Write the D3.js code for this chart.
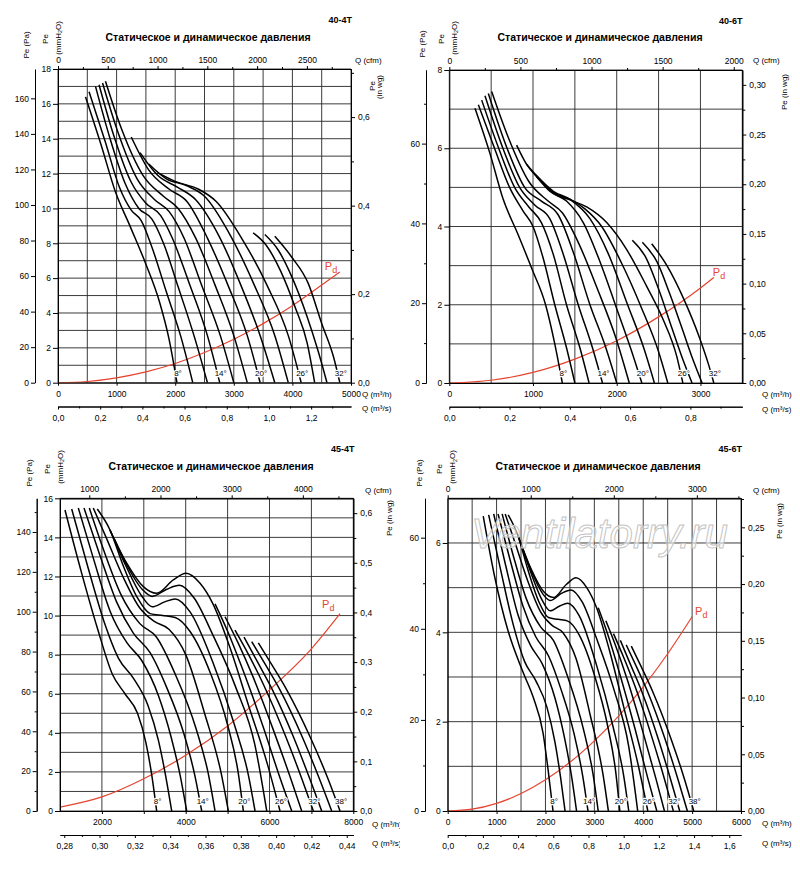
<!DOCTYPE html>
<html>
<head>
<meta charset="utf-8">
<script src="https://cdn.jsdelivr.net/npm/d3@7"></script>
<style>
  body { margin: 0; background: #fff; }
</style>
</head>
<body>
<svg id="chart" width="800" height="876"></svg>
<script>
const FONT = '"Liberation Sans", Arial, Helvetica, sans-serif';

// ---- data ----
const angles40 = [8, 10, 12, 14, 16, 18, 20, 22, 24, 26, 28, 30, 32];
const angles45 = [8, 10, 12, 14, 16, 18, 20, 22, 24, 26, 28, 30, 32, 34, 36, 38];
const labeledAngles = [8, 14, 20, 26, 32, 38];

// [Q m3/h, Pe mmH2O]
const curves404T = [
  [[470,16.4],[740,13.6],[975,11.0],[1240,8.9],[1500,6.8],[1735,4.6],[1895,2.5],[2030,0]],
  [[530,16.7],[800,13.9],[1050,11.2],[1250,9.9],[1420,9.3],[1600,7.8],[1850,5.2],[2100,2.6],[2300,0]],
  [[640,17.0],[880,14.1],[1150,11.4],[1380,10.0],[1600,9.4],[1800,8.0],[2050,5.5],[2330,2.6],[2550,0]],
  [[700,17.1],[950,14.2],[1250,11.5],[1500,10.3],[1750,9.6],[1950,8.3],[2250,5.6],[2550,2.7],[2760,0]],
  [[760,17.2],[1020,14.4],[1350,11.7],[1650,10.5],[1900,9.8],[2150,8.3],[2450,5.6],[2770,2.7],[3000,0]],
  [[810,17.3],[1080,14.6],[1450,11.9],[1800,10.7],[2050,10.0],[2350,8.3],[2680,5.6],[3000,2.7],[3230,0]],
  [[1250,14.1],[1550,12.2],[1900,11.1],[2200,10.4],[2550,8.3],[2900,5.6],[3230,2.7],[3450,0]],
  [[1400,13.2],[1700,11.9],[2050,11.2],[2350,10.5],[2750,8.4],[3120,5.6],[3450,2.7],[3700,0]],
  [[1550,12.55],[1850,11.7],[2200,11.3],[2500,10.7],[2950,8.4],[3350,5.6],[3700,2.7],[3930,0]],
  [[1700,12.05],[2000,11.55],[2400,11.1],[2700,10.4],[3150,8.2],[3580,5.5],[3930,2.7],[4150,0]],
  [[3330,8.6],[3550,7.9],[3800,6.4],[4050,4.3],[4250,2.3],[4380,0]],
  [[3530,8.5],[3760,7.6],[4000,6.0],[4250,3.8],[4440,1.8],[4590,0]],
  [[3700,8.4],[3990,7.2],[4270,5.7],[4500,3.4],[4700,1.5],[4810,0]]
];
const curves406T = [
  [[307,7.02],[488,5.85],[643,4.7],[820,3.8],[990,2.9],[1150,2.0],[1255,1.05],[1350,0]],
  [[347,7.11],[540,6.0],[720,5.0],[880,4.4],[1000,4.0],[1120,3.2],[1260,2.0],[1400,0.9],[1500,0]],
  [[387,7.23],[590,6.0],[780,5.0],[950,4.5],[1100,4.1],[1240,3.3],[1400,2.0],[1560,0.9],[1670,0]],
  [[426,7.34],[640,6.0],[840,5.0],[1020,4.55],[1200,4.2],[1360,3.3],[1540,2.0],[1710,0.9],[1830,0]],
  [[466,7.40],[690,6.0],[900,5.0],[1100,4.65],[1300,4.3],[1480,3.35],[1680,2.0],[1870,0.9],[2000,0]],
  [[506,7.45],[700,6.3],[950,5.15],[1180,4.65],[1350,4.35],[1550,3.55],[1770,2.4],[1990,1.15],[2150,0]],
  [[804,6.08],[920,5.6],[1043,5.27],[1200,4.9],[1400,4.65],[1600,4.1],[1800,3.1],[2000,1.9],[2180,0.8],[2300,0]],
  [[920,5.6],[1043,5.3],[1243,4.9],[1450,4.68],[1680,4.2],[1900,3.3],[2130,2.0],[2330,0.85],[2450,0]],
  [[1043,5.28],[1243,4.87],[1442,4.7],[1620,4.45],[1820,4.0],[2050,3.1],[2300,1.9],[2500,0.8],[2610,0]],
  [[1043,5.27],[1243,4.85],[1442,4.68],[1641,4.5],[1880,4.1],[2119,3.41],[2358,2.47],[2557,1.61],[2717,0.68],[2790,0]],
  [[2186,3.65],[2350,3.2],[2500,2.4],[2660,1.4],[2790,0.6],[2900,0]],
  [[2306,3.60],[2480,3.1],[2630,2.3],[2780,1.4],[2910,0.6],[3020,0]],
  [[2418,3.56],[2600,3.0],[2800,2.15],[2990,1.15],[3100,0.45],[3160,0]]
];
const curves454T = [
  [[1119,15.4],[1500,12.3],[1900,9.3],[2250,7.0],[2550,6.0],[2850,5.0],[3050,3.5],[3200,1.7],[3307,0]],
  [[1279,15.45],[1650,12.6],[2050,9.7],[2400,7.8],[2750,6.8],[3100,5.4],[3350,3.6],[3530,1.7],[3666,0]],
  [[1437,15.5],[1800,12.9],[2200,10.2],[2600,8.6],[2950,7.7],[3350,5.9],[3650,3.8],[3870,1.8],[4024,0]],
  [[1573,15.5],[1950,13.1],[2350,10.7],[2750,9.1],[3150,8.1],[3550,6.3],[3950,4.0],[4220,1.8],[4382,0]],
  [[1700,15.5],[2050,13.3],[2450,11.1],[2900,9.6],[3300,8.9],[3750,7.0],[4250,4.2],[4540,1.9],[4700,0]],
  [[1795,15.5],[2100,14.0],[2500,12.0],[2900,10.4],[3250,9.7],[3600,9.3],[4000,8.0],[4450,5.0],[4850,1.9],[5018,0]],
  [[1890,15.45],[2193,14.38],[2500,12.6],[2850,10.9],[3150,10.1],[3450,10.0],[3750,9.9],[4100,9.2],[4600,7.0],[5000,4.4],[5250,2.0],[5376,0]],
  [[2193,14.38],[2560,12.6],[2950,11.0],[3200,10.45],[3500,10.7],[3750,10.85],[4100,10.2],[4650,7.6],[5150,4.5],[5500,1.8],[5655,0]],
  [[2300,13.9],[2590,12.6],[2980,11.3],[3200,10.98],[3550,11.35],[3850,11.55],[4200,10.9],[4650,9.0],[5200,6.3],[5650,3.4],[5934,0]],
  [[2193,14.38],[2592,12.68],[2988,11.48],[3307,11.14],[3704,11.82],[4008,12.16],[4342,11.65],[4650,10.6],[5050,8.4],[5500,5.4],[5950,2.4],[6251,0]],
  [[4700,10.6],[5000,9.2],[5350,7.3],[5850,4.3],[6250,1.7],[6531,0]],
  [[4939,9.94],[5250,8.6],[5600,6.9],[6100,4.1],[6500,1.7],[6769,0]],
  [[5177,9.25],[5500,8.0],[5850,6.5],[6370,3.9],[6780,1.6],[7047,0]],
  [[5392,8.9],[5720,7.6],[6070,6.2],[6570,3.8],[6970,1.6],[7246,0]],
  [[5575,8.67],[5900,7.5],[6250,6.2],[6780,3.8],[7200,1.6],[7485,0]],
  [[5734,8.6],[6050,7.5],[6411,6.2],[6968,3.8],[7405,1.6],[7684,0]]
];
const curves456T = [
  [[727,6.6],[950,5.3],[1230,4.05],[1544,3.1],[1748,2.55],[1952,1.74],[2054,0.92],[2155,0]],
  [[838,6.63],[1081,5.41],[1343,4.16],[1572,3.35],[1801,2.92],[2031,2.32],[2194,1.54],[2312,0.73],[2401,0]],
  [[941,6.65],[1179,5.53],[1441,4.38],[1703,3.69],[1932,3.3],[2194,2.53],[2391,1.63],[2535,0.77],[2636,0]],
  [[1030,6.65],[1277,5.62],[1539,4.59],[1801,3.9],[2063,3.47],[2325,2.7],[2587,1.72],[2764,0.77],[2870,0]],
  [[1114,6.65],[1343,5.71],[1605,4.76],[1900,4.12],[2162,3.82],[2456,3.0],[2784,1.8],[2974,0.82],[3079,0]],
  [[1176,6.65],[1376,6.01],[1638,5.15],[1900,4.46],[2129,4.16],[2358,3.99],[2620,3.43],[2915,2.15],[3177,0.82],[3287,0]],
  [[1238,6.63],[1436,6.17],[1638,5.41],[1867,4.68],[2063,4.33],[2260,4.29],[2456,4.25],[2686,3.95],[3013,3.0],[3275,1.89],[3439,0.86],[3521,0]],
  [[1436,6.17],[1677,5.41],[1932,4.72],[2096,4.48],[2293,4.59],[2456,4.65],[2686,4.38],[3046,3.26],[3373,1.93],[3603,0.77],[3704,0]],
  [[1507,5.96],[1696,5.41],[1952,4.85],[2096,4.71],[2325,4.87],[2522,4.95],[2751,4.68],[3046,3.86],[3406,2.7],[3701,1.46],[3887,0]],
  [[1436,6.17],[1698,5.44],[1957,4.92],[2166,4.78],[2426,5.07],[2625,5.22],[2844,5.0],[3046,4.55],[3308,3.6],[3603,2.32],[3897,1.03],[4094,0]],
  [[3079,4.55],[3275,3.95],[3504,3.13],[3832,1.84],[4094,0.73],[4278,0]],
  [[3235,4.26],[3439,3.69],[3668,2.96],[3996,1.76],[4258,0.73],[4434,0]],
  [[3391,3.97],[3603,3.43],[3832,2.79],[4172,1.67],[4441,0.69],[4616,0]],
  [[3532,3.82],[3747,3.26],[3976,2.66],[4303,1.63],[4565,0.69],[4746,0]],
  [[3652,3.72],[3865,3.22],[4094,2.66],[4441,1.63],[4716,0.69],[4903,0]],
  [[3756,3.69],[3963,3.22],[4199,2.66],[4564,1.63],[4850,0.69],[5033,0]]
];

// dynamic pressure Pd
const pd404T = [[0,0],[500,0.07],[1000,0.28],[1500,0.62],[2000,1.1],[2500,1.73],[3000,2.49],[3500,3.39],[4000,4.42],[4500,5.6],[4810,6.35]];
const pd406T = [[0,0],[500,0.07],[1000,0.27],[1500,0.61],[2000,1.08],[2500,1.69],[3000,2.43],[3160,2.7]];
const pd454T = [[1000,0.2],[2000,0.72],[3000,1.65],[4000,2.85],[5000,4.35],[6000,6.2],[7000,8.3],[7684,10.1]];
const pd456T = [[0,0],[500,0.04],[1000,0.17],[1500,0.39],[2000,0.7],[2500,1.09],[3000,1.57],[3500,2.13],[4000,2.78],[4500,3.52],[5000,4.35]];

// tick labels
const qTicks404T = [0, 1000, 2000, 3000, 4000, 5000];
const cfmTicks404T = [0, 500, 1000, 1500, 2000, 2500];
const cfmMinor404T = [250, 750, 1250, 1750, 2250, 2750];
const paTicks404T = [0, 20, 40, 60, 80, 100, 120, 140, 160];
const mmTicks404T = [0, 2, 4, 6, 8, 10, 12, 14, 16, 18];
const inwgTicks404T = [0, 0.2, 0.4, 0.6];
const inwgMinor404T = [0.1, 0.3, 0.5, 0.7];
const m3sTicks404T = [0, 0.2, 0.4, 0.6, 0.8, 1.0, 1.2];
const m3sMinor404T = [0.1, 0.3, 0.5, 0.7, 0.9, 1.1, 1.3];

const qTicks406T = [0, 1000, 2000, 3000];
const cfmTicks406T = [0, 500, 1000, 1500, 2000];
const cfmMinor406T = [250, 750, 1250, 1750];
const paTicks406T = [0, 20, 40, 60];
const paMinor406T = [10, 30, 50, 70];
const mmTicks406T = [0, 2, 4, 6, 8];
const inwgTicks406T = [0, 0.05, 0.10, 0.15, 0.20, 0.25, 0.30];
const inwgMinor406T = [0.025, 0.075, 0.125, 0.175, 0.225, 0.275];
const m3sTicks406T = [0, 0.2, 0.4, 0.6, 0.8];
const m3sMinor406T = [0.1, 0.3, 0.5, 0.7, 0.9];

const qTicks454T = [2000, 4000, 6000, 8000];
const qMinor454T = [3000, 5000, 7000];
const cfmTicks454T = [1000, 2000, 3000, 4000];
const cfmMinor454T = [1500, 2500, 3500, 4500];
const paTicks454T = [0, 20, 40, 60, 80, 100, 120, 140];
const paMinor454T = [10, 30, 50, 70, 90, 110, 130, 150];
const mmTicks454T = [0, 2, 4, 6, 8, 10, 12, 14, 16];
const inwgTicks454T = [0, 0.1, 0.2, 0.3, 0.4, 0.5, 0.6];
const inwgMinor454T = [0.05, 0.15, 0.25, 0.35, 0.45, 0.55];
const m3sTicks454T = [0.28, 0.30, 0.32, 0.34, 0.36, 0.38, 0.40, 0.42, 0.44];
const m3sMinor454T = [0.29, 0.31, 0.33, 0.35, 0.37, 0.39, 0.41, 0.43];

const qTicks456T = [0, 1000, 2000, 3000, 4000, 5000, 6000];
const cfmTicks456T = [0, 1000, 2000, 3000];
const cfmMinor456T = [500, 1500, 2500, 3500];
const paTicks456T = [0, 20, 40, 60];
const paMinor456T = [10, 30, 50];
const mmTicks456T = [0, 2, 4, 6];
const inwgTicks456T = [0, 0.05, 0.10, 0.15, 0.20, 0.25];
const inwgMinor456T = [0.025, 0.075, 0.125, 0.175, 0.225, 0.275];
const m3sTicks456T = [0, 0.2, 0.4, 0.6, 0.8, 1.0, 1.2, 1.4, 1.6];
const m3sMinor456T = [0.1, 0.3, 0.5, 0.7, 0.9, 1.1, 1.3, 1.5];

const titleText = 'Статическое и динамическое давления';

// ---- layout ----
const panels = [
  { id: 'a', name: '40-4T', cx: 0, cy: 0, ch: 430,
    x0: 58, x1: 351, y0: 69, y1: 382.7, q: [0, 5000], pe: 18, qGrid: 500, paX: 35,
    titleX: 208, titleY: 40.5, nameX: 352, nameY: 23.3,
    paLbl: [29, 45], peLbl: [47.5, 39], mmLbl: [60.5, 38],
    cfmLbl: [355, 63], inLbl: [381, 87], inTwoLines: true,
    qLbl: [362, 397], sY: 406.5, sLbl: [362, 411],
    inDec: 1, sDec: 1, pdDx: -15, pdDy: -2,
    curves: curves404T, angles: angles40, pd: pd404T,
    t: { q: qTicks404T, cfm: cfmTicks404T, cfmMinor: cfmMinor404T, pa: paTicks404T, mm: mmTicks404T,
         inwg: inwgTicks404T, inwgMinor: inwgMinor404T, m3s: m3sTicks404T, m3sMinor: m3sMinor404T } },
  { id: 'b', name: '40-6T', cx: 400, cy: 0, ch: 430,
    x0: 449.3, x1: 742.3, y0: 70, y1: 383, q: [0, 3500], pe: 8, qGrid: 500, paX: 426,
    titleX: 600, titleY: 40.5, nameX: 742.5, nameY: 24,
    paLbl: [425, 44], peLbl: [444, 39], mmLbl: [456.5, 38],
    cfmLbl: [753, 63], inLbl: [787, 92], inTwoLines: false,
    qLbl: [762, 397], sY: 406.7, sLbl: [762, 412],
    inDec: 2, sDec: 1, pdDx: -1, pdDy: -1,
    curves: curves406T, angles: angles40, pd: pd406T,
    t: { q: qTicks406T, cfm: cfmTicks406T, cfmMinor: cfmMinor406T, pa: paTicks406T, paMinor: paMinor406T,
         mm: mmTicks406T, inwg: inwgTicks406T, inwgMinor: inwgMinor406T, m3s: m3sTicks406T, m3sMinor: m3sMinor406T } },
  { id: 'c', name: '45-4T', cx: 0, cy: 430, ch: 446,
    x0: 60, x1: 353.3, y0: 498.3, y1: 811, q: [1000, 8000], pe: 16, qGrid: 1000, paX: 36.7,
    titleX: 211, titleY: 469.5, nameX: 354.5, nameY: 452.3,
    paLbl: [32, 473], peLbl: [50, 469], mmLbl: [62.5, 467],
    cfmLbl: [365, 493], inLbl: [392, 518], inTwoLines: false,
    qLbl: [372, 826.7], sY: 835, sLbl: [372, 846],
    s: [0.2776, 0.4437], inDec: 1, sDec: 2, pdDx: -18, pdDy: -6,
    curves: curves454T, angles: angles45, pd: pd454T,
    t: { q: qTicks454T, qMinor: qMinor454T, cfm: cfmTicks454T, cfmMinor: cfmMinor454T, pa: paTicks454T,
         paMinor: paMinor454T, mm: mmTicks454T, inwg: inwgTicks454T, inwgMinor: inwgMinor454T,
         m3s: m3sTicks454T, m3sMinor: m3sMinor454T } },
  { id: 'd', name: '45-6T', cx: 400, cy: 430, ch: 446,
    x0: 447.7, x1: 741, y0: 498.3, y1: 811, q: [0, 6000], pe: 7, qGrid: 500, paX: 425,
    titleX: 598, titleY: 469.5, nameX: 742, nameY: 451.7,
    paLbl: [422, 473], peLbl: [442, 469], mmLbl: [455, 467],
    cfmLbl: [753, 493], inLbl: [782, 521], inTwoLines: false,
    qLbl: [762, 826], sY: 835, sLbl: [762, 846],
    inDec: 2, sDec: 1, pdDx: 3, pdDy: -2, watermark: true,
    curves: curves456T, angles: angles45, pd: pd456T,
    t: { q: qTicks456T, cfm: cfmTicks456T, cfmMinor: cfmMinor456T, pa: paTicks456T, paMinor: paMinor456T,
         mm: mmTicks456T, inwg: inwgTicks456T, inwgMinor: inwgMinor456T, m3s: m3sTicks456T, m3sMinor: m3sMinor456T } }
];

const svg = d3.select('#chart');
const defs = svg.append('defs');

const comma = n => { const f = d3.format('.' + n + 'f'); return d => f(d).replace('.', ','); };

function putAxis(g, axis) {
  g.call(axis);
  g.attr('font-family', FONT).attr('font-size', 8.5);
  return g;
}

function rotText(g, x, y, size) {
  return g.append('text')
    .attr('transform', `translate(${x},${y}) rotate(-90)`)
    .attr('text-anchor', 'middle')
    .attr('font-size', size || 8);
}

function drawPanel(p) {
  defs.append('clipPath').attr('id', 'clip-' + p.id).append('rect')
    .attr('x', p.cx).attr('y', p.cy).attr('width', 400).attr('height', p.ch);
  defs.append('clipPath').attr('id', 'plot-' + p.id).append('rect')
    .attr('x', p.x0).attr('y', p.y0).attr('width', p.x1 - p.x0).attr('height', p.y1 - p.y0);

  const g = svg.append('g').attr('clip-path', `url(#clip-${p.id})`).attr('font-family', FONT);

  const x = d3.scaleLinear().domain(p.q).range([p.x0, p.x1]);
  const y = d3.scaleLinear().domain([0, p.pe]).range([p.y1, p.y0]);

  // grid
  const grid = g.append('g').attr('stroke', '#262626').attr('stroke-width', 0.9);
  grid.selectAll('line.v').data(d3.range(p.q[0], p.q[1] + 1, p.qGrid)).enter()
    .append('line').attr('class', 'v')
    .attr('x1', d => x(d)).attr('x2', d => x(d)).attr('y1', p.y0).attr('y2', p.y1);
  grid.selectAll('line.h').data(d3.range(0, p.pe + 0.001, 1)).enter()
    .append('line').attr('class', 'h')
    .attr('x1', p.x0).attr('x2', p.x1).attr('y1', d => y(d)).attr('y2', d => y(d));

  // curves
  const line = d3.line().x(d => x(d[0])).y(d => y(d[1])).curve(d3.curveMonotoneX);
  const plot = g.append('g').attr('clip-path', `url(#plot-${p.id})`);
  plot.append('path').datum(p.pd)
    .attr('d', line).attr('fill', 'none').attr('stroke', '#e5452f').attr('stroke-width', 1.2);
  plot.selectAll('path.curve').data(p.curves).enter()
    .append('path').attr('class', 'curve')
    .attr('d', line).attr('fill', 'none').attr('stroke', '#000').attr('stroke-width', 1.5)
    .attr('stroke-linejoin', 'round');

  // blade angle labels
  p.angles.forEach((a, i) => {
    if (!labeledAngles.includes(a)) return;
    const end = p.curves[i][p.curves[i].length - 1];
    g.append('text')
      .attr('x', x(end[0]) + 1).attr('y', p.y1 - 7)
      .attr('text-anchor', 'middle').attr('font-size', 8)
      .attr('stroke', '#fff').attr('stroke-width', 2.5).attr('paint-order', 'stroke')
      .text(a + '°');
  });

  // Pd label
  const pdEnd = p.pd[p.pd.length - 1];
  const pdT = g.append('text')
    .attr('x', x(pdEnd[0]) + p.pdDx).attr('y', y(pdEnd[1]) + p.pdDy)
    .attr('fill', '#e5452f').attr('font-size', 11);
  pdT.append('tspan').text('P');
  pdT.append('tspan').attr('dy', 3).attr('font-size', 9).text('d');

  // axes
  putAxis(g.append('g').attr('transform', `translate(${p.x0},0)`),
    d3.axisLeft(y).tickValues(p.t.mm).tickSize(5).tickPadding(2).tickSizeOuter(0).tickFormat(d3.format('d')));

  const yPa = d3.scaleLinear().domain([0, p.pe * 9.80665]).range([p.y1, p.y0]);
  putAxis(g.append('g').attr('transform', `translate(${p.paX},0)`),
    d3.axisLeft(yPa).tickValues(p.t.pa).tickSize(4).tickPadding(2).tickSizeOuter(0).tickFormat(d3.format('d')));
  if (p.t.paMinor) {
    putAxis(g.append('g').attr('transform', `translate(${p.paX},0)`),
      d3.axisLeft(yPa).tickValues(p.t.paMinor).tickSize(2).tickSizeOuter(0).tickFormat(''));
  }

  const xCfm = d3.scaleLinear().domain([p.q[0] / 1.699, p.q[1] / 1.699]).range([p.x0, p.x1]);
  putAxis(g.append('g').attr('transform', `translate(0,${p.y0})`),
    d3.axisTop(xCfm).tickValues(p.t.cfm).tickSize(3).tickPadding(3).tickSizeOuter(0).tickFormat(d3.format('d')));
  putAxis(g.append('g').attr('transform', `translate(0,${p.y0})`),
    d3.axisTop(xCfm).tickValues(p.t.cfmMinor).tickSize(2).tickSizeOuter(0).tickFormat(''));

  const yIn = d3.scaleLinear().domain([0, p.pe / 25.4]).range([p.y1, p.y0]);
  putAxis(g.append('g').attr('transform', `translate(${p.x1},0)`),
    d3.axisRight(yIn).tickValues(p.t.inwg).tickSize(4).tickPadding(3).tickSizeOuter(0).tickFormat(comma(p.inDec)));
  putAxis(g.append('g').attr('transform', `translate(${p.x1},0)`),
    d3.axisRight(yIn).tickValues(p.t.inwgMinor).tickSize(3).tickSizeOuter(0).tickFormat(''));

  putAxis(g.append('g').attr('transform', `translate(0,${p.y1})`),
    d3.axisBottom(x).tickValues(p.t.q).tickSize(3).tickPadding(5).tickSizeOuter(0).tickFormat(d3.format('d')));
  if (p.t.qMinor) {
    putAxis(g.append('g').attr('transform', `translate(0,${p.y1})`),
      d3.axisBottom(x).tickValues(p.t.qMinor).tickSize(3).tickSizeOuter(0).tickFormat(''));
  }

  const xS = d3.scaleLinear().domain(p.s || [p.q[0] / 3600, p.q[1] / 3600]).range([p.x0, p.x1]);
  putAxis(g.append('g').attr('transform', `translate(0,${p.sY})`),
    d3.axisBottom(xS).tickValues(p.t.m3s).tickSize(3).tickPadding(5).tickSizeOuter(0).tickFormat(comma(p.sDec)));
  putAxis(g.append('g').attr('transform', `translate(0,${p.sY})`),
    d3.axisBottom(xS).tickValues(p.t.m3sMinor).tickSize(2).tickSizeOuter(0).tickFormat(''));

  // titles and axis names
  g.append('text').attr('x', p.titleX).attr('y', p.titleY).attr('text-anchor', 'middle')
    .attr('font-size', 10.5).attr('font-weight', 'bold').text(titleText);
  g.append('text').attr('x', p.nameX).attr('y', p.nameY).attr('text-anchor', 'end')
    .attr('font-size', 9).attr('font-weight', 'bold').text(p.name);

  rotText(g, p.paLbl[0], p.paLbl[1]).text('Pe (Pa)');
  rotText(g, p.peLbl[0], p.peLbl[1]).text('Pe');
  const mm = rotText(g, p.mmLbl[0], p.mmLbl[1]);
  mm.append('tspan').text('(mmH');
  mm.append('tspan').attr('dy', 1.5).attr('font-size', 5.5).text('2');
  mm.append('tspan').attr('dy', -1.5).text('O)');

  if (p.inTwoLines) {
    rotText(g, p.inLbl[0] - 6, p.inLbl[1] - 1).text('Pe');
    rotText(g, p.inLbl[0] + 1, p.inLbl[1]).text('(in wg)');
  } else {
    rotText(g, p.inLbl[0], p.inLbl[1]).text('Pe (in wg)');
  }

  g.append('text').attr('x', p.cfmLbl[0]).attr('y', p.cfmLbl[1]).attr('font-size', 8).text('Q (cfm)');
  g.append('text').attr('x', p.qLbl[0]).attr('y', p.qLbl[1]).attr('font-size', 8).text('Q (m³/h)');
  g.append('text').attr('x', p.sLbl[0]).attr('y', p.sLbl[1]).attr('font-size', 8).text('Q (m³/s)');

  if (p.watermark) {
    g.append('text').attr('x', 471).attr('y', 548)
      .attr('font-size', 42).attr('font-style', 'italic')
      .attr('fill', 'rgba(255,255,255,0.55)').attr('stroke', '#c4c4c4').attr('stroke-width', 1)
      .text('Ventilatorry.ru');
  }
}

panels.forEach(drawPanel);
</script>
</body>
</html>
